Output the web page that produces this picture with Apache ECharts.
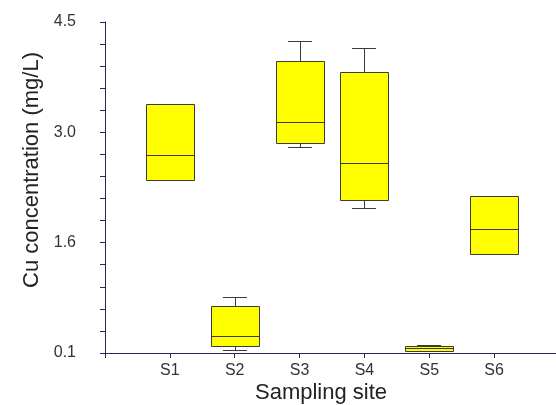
<!DOCTYPE html>
<html><head><meta charset="utf-8">
<script src="https://cdn.jsdelivr.net/npm/echarts@6/dist/echarts.min.js"></script>
<style>html,body{margin:0;padding:0;background:#fff}#c{width:556px;height:405px}</style>
</head><body><div id="c"></div>
<script>
// ---- data ----
const sites       = ['S1', 'S2', 'S3', 'S4', 'S5', 'S6'];
const whiskerLow  = [2.40, 0.145, 2.84, 2.03, 0.125, 1.41];
const quartile1   = [2.40, 0.19, 2.89, 2.13, 0.125, 1.41];
const medians     = [2.73, 0.32, 3.165, 2.62, 0.16, 1.75];
const quartile3   = [3.41, 0.72, 3.985, 3.84, 0.195, 2.19];
const whiskerHigh = [3.41, 0.845, 4.25, 4.16, 0.21, 2.19];
const yLabelValues = [0.1, 1.5667, 3.0333, 4.5];
const yTickLabels  = ['0.1', '1.6', '3.0', '4.5'];
const yMin = 0.1, yMax = 4.5, tickSteps = 15;
const xTitle = 'Sampling site';
const yTitle = 'Cu concentration (mg/L)';

const yTickValues = [];
for (let k = 0; k <= tickSteps; k++) yTickValues.push(yMin + k * (yMax - yMin) / tickSteps);
const categories = [''].concat(sites, ['']);
const boxData = sites.map((s, i) => [i + 1, whiskerLow[i], quartile1[i], medians[i], quartile3[i], whiskerHigh[i]]);

const axisColor = '#26265e';
const textColor = '#333333';
const font = '"Liberation Sans", Arial, sans-serif';
const edge = '#3a3a3a';

const chart = echarts.init(document.getElementById('c'), null, {renderer: 'canvas'});
const px = v => Math.round(v) + 0.5;

chart.setOption({
  animation: false,
  backgroundColor: '#ffffff',
  grid: {left: 105, right: -3, top: 22, bottom: 52, outerBoundsMode: 'none', containLabel: false},
  xAxis: {
    type: 'category', data: categories, boundaryGap: false,
    axisLine: {show: true, lineStyle: {color: axisColor, width: 1}},
    axisTick: {show: true, length: 5, lineStyle: {color: axisColor}},
    axisLabel: {color: textColor, fontSize: 16, fontFamily: font, margin: 10, interval: 0},
    splitLine: {show: false}
  },
  yAxis: {
    type: 'value', min: yMin, max: yMax,
    axisLine: {show: true, lineStyle: {color: axisColor, width: 1}},
    axisTick: {show: true, length: 5, customValues: yTickValues, lineStyle: {color: axisColor}},
    axisLabel: {
      customValues: yLabelValues, color: textColor, fontSize: 16, fontFamily: font, margin: 29,
      formatter: v => {
        let best = 0;
        yLabelValues.forEach((lv, i) => { if (Math.abs(lv - v) < Math.abs(yLabelValues[best] - v)) best = i; });
        return yTickLabels[best];
      }
    },
    splitLine: {show: false}
  },
  graphic: [
    {type: 'text', x: 321, y: 393, style: {text: xTitle, fill: '#222', font: '22px ' + font, align: 'center', verticalAlign: 'middle'}},
    {type: 'text', x: 32, y: 170, rotation: Math.PI / 2, style: {text: yTitle, fill: '#222', font: '22px ' + font, align: 'center', verticalAlign: 'middle'}}
  ],
  series: [{
    type: 'custom',
    data: boxData,
    encode: {x: 0, y: [1, 2, 3, 4, 5]},
    renderItem: function (params, api) {
      const idx = api.value(0);
      const band = api.size([1, 0])[0];
      const bw = Math.round(band * 0.74);
      const cx = Math.round(api.coord([idx, yMin])[0]);
      const y = v => api.coord([idx, v])[1];
      const lo = api.value(1), q1 = api.value(2), med = api.value(3), q3 = api.value(4), hi = api.value(5);
      const ls = {stroke: edge, lineWidth: 1, fill: null};
      const left = cx - bw / 2, right = cx + bw / 2;
      const children = [];
      if (hi > q3) {
        children.push({type: 'line', shape: {x1: cx + 0.5, y1: px(y(q3)), x2: cx + 0.5, y2: px(y(hi))}, style: ls});
        children.push({type: 'line', shape: {x1: cx - bw / 4, y1: px(y(hi)), x2: cx + bw / 4, y2: px(y(hi))}, style: ls});
      }
      if (lo < q1) {
        children.push({type: 'line', shape: {x1: cx + 0.5, y1: px(y(q1)), x2: cx + 0.5, y2: px(y(lo))}, style: ls});
        children.push({type: 'line', shape: {x1: cx - bw / 4, y1: px(y(lo)), x2: cx + bw / 4, y2: px(y(lo))}, style: ls});
      }
      const top = px(y(q3)), bot = px(y(q1));
      children.push({type: 'rect', shape: {x: left + 0.5, y: top, width: bw, height: Math.max(bot - top, 1)},
        style: {fill: '#ffff00', stroke: edge, lineWidth: 1}});
      children.push({type: 'line', shape: {x1: left + 0.5, y1: px(y(med)), x2: right + 0.5, y2: px(y(med))}, style: ls});
      return {type: 'group', children: children};
    }
  }]
});
</script>
</body></html>
